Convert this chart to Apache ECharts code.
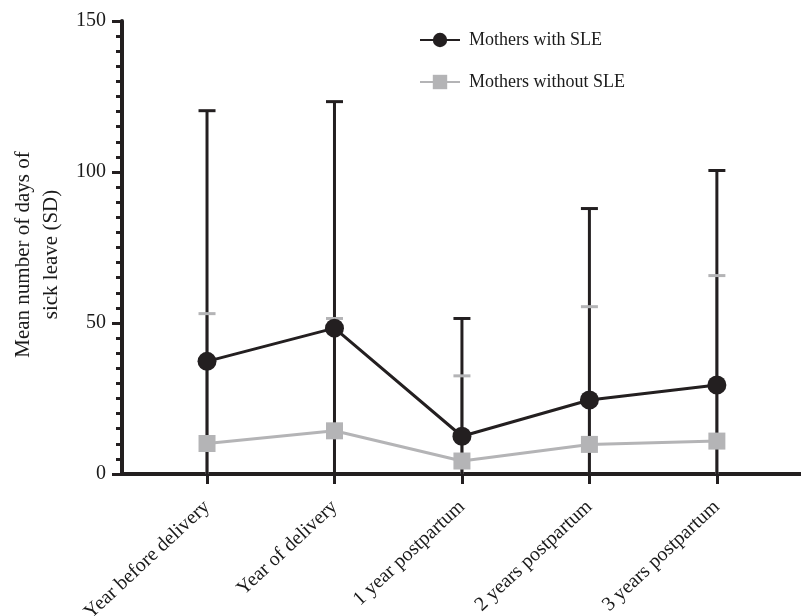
<!DOCTYPE html>
<html>
<head>
<meta charset="utf-8">
<script src="https://cdn.jsdelivr.net/npm/echarts@6/dist/echarts.min.js"></script>
<style>html,body{margin:0;padding:0;background:#fff}#c{width:801px;height:616px}</style>
</head>
<body>
<div id="c"></div>
<script>
const categories = ['Year before delivery', 'Year of delivery', '1 year postpartum', '2 years postpartum', '3 years postpartum'];
const sleMean = [37.3, 48.3, 12.5, 24.5, 29.5];
const sleSD = [83.0, 75.0, 39.0, 63.4, 71.0];
const nonMean = [10.1, 14.3, 4.3, 9.8, 10.9];
const nonSD = [43.0, 37.2, 28.2, 45.6, 54.8];
const yTicks = [0, 50, 100, 150];

const BLACK = '#231f20';
const GRAY = '#b4b4b6';
const FONT = '"Liberation Serif", "Times New Roman", serif';

function errRender(color, drawStem, drawCap) {
  return function (params, api) {
    const x = api.value(0), lo = api.value(1), hi = api.value(2);
    const pLo = api.coord([x, lo]);
    const pHi = api.coord([x, hi]);
    const half = 8.5;
    const children = [];
    if (drawStem) children.push({ type: 'line', shape: { x1: pLo[0], y1: pLo[1], x2: pHi[0], y2: pHi[1] }, style: { stroke: color, lineWidth: 3 } });
    if (drawCap) children.push({ type: 'line', shape: { x1: pHi[0] - half, y1: pHi[1], x2: pHi[0] + half, y2: pHi[1] }, style: { stroke: color, lineWidth: 3 } });
    return { type: 'group', children: children };
  };
}
const idx = categories.map((c, i) => i);
const sleErr = idx.map(i => [i, Math.max(0, sleMean[i] - sleSD[i]), sleMean[i] + sleSD[i]]);
const nonErr = idx.map(i => [i, Math.max(0, nonMean[i] - nonSD[i]), nonMean[i] + nonSD[i]]);

const chart = echarts.init(document.getElementById('c'));
chart.setOption({
  animation: false,
  backgroundColor: '#fff',
  grid: { left: 122, right: 0, top: 21, bottom: 142, containLabel: false, outerBoundsMode: 'none' },
  legend: {
    orient: 'vertical',
    left: 414,
    top: 26,
    itemWidth: 40,
    itemHeight: 18,
    itemGap: 24,
    data: ['Mothers with SLE', 'Mothers without SLE'],
    textStyle: { fontFamily: FONT, fontSize: 18, color: '#1a1a1a', padding: [0, 0, 0, 4] }
  },
  xAxis: {
    type: 'value',
    min: -0.667,
    max: 4.66,
    splitLine: { show: false },
    axisLine: { onZero: false, lineStyle: { color: BLACK, width: 4 } },
    axisTick: { show: true, customValues: idx, length: 10, lineStyle: { color: BLACK, width: 3 } },
    axisLabel: {
      customValues: idx,
      formatter: v => categories[Math.round(v)],
      rotate: 43,
      margin: 30,
      fontFamily: FONT,
      fontSize: 20,
      color: '#1a1a1a'
    }
  },
  yAxis: {
    type: 'value',
    min: 0,
    max: 150,
    interval: 50,
    name: 'Mean number of days of\nsick leave (SD)',
    nameLocation: 'middle',
    nameRotate: 90,
    nameGap: 55,
    nameTextStyle: { fontFamily: FONT, fontSize: 21, color: '#1a1a1a', lineHeight: 28, padding: [0, 14, 0, 0] },
    splitLine: { show: false },
    axisLine: { show: true, onZero: false, lineStyle: { color: BLACK, width: 4 } },
    axisTick: { show: true, length: 10, lineStyle: { color: BLACK, width: 3 } },
    minorTick: { show: true, splitNumber: 10, length: 6, lineStyle: { color: BLACK, width: 3 } },
    axisLabel: { margin: 16, fontFamily: FONT, fontSize: 20, color: '#1a1a1a',
      formatter: v => (yTicks.indexOf(v) >= 0 ? String(v) : '') }
  },
  series: [
    {
      name: 'Non-SLE SD stem', type: 'custom', renderItem: errRender(GRAY, true, false),
      encode: { x: 0, y: [1, 2] }, data: nonErr, z: 1, silent: true
    },
    {
      name: 'SLE SD', type: 'custom', renderItem: errRender(BLACK, true, true),
      encode: { x: 0, y: [1, 2] }, data: sleErr, z: 2, silent: true
    },
    {
      name: 'Non-SLE SD cap', type: 'custom', renderItem: errRender(GRAY, false, true),
      encode: { x: 0, y: [1, 2] }, data: nonErr, z: 3, silent: true
    },
    {
      name: 'Mothers without SLE', type: 'line', z: 4,
      data: idx.map(i => [i, nonMean[i]]),
      symbol: 'rect', symbolSize: 17,
      itemStyle: { color: GRAY },
      lineStyle: { color: GRAY, width: 3 }
    },
    {
      name: 'Mothers with SLE', type: 'line', z: 5,
      data: idx.map(i => [i, sleMean[i]]),
      symbol: 'circle', symbolSize: 19,
      itemStyle: { color: BLACK },
      lineStyle: { color: BLACK, width: 3 }
    }
  ]
});
</script>
</body>
</html>
